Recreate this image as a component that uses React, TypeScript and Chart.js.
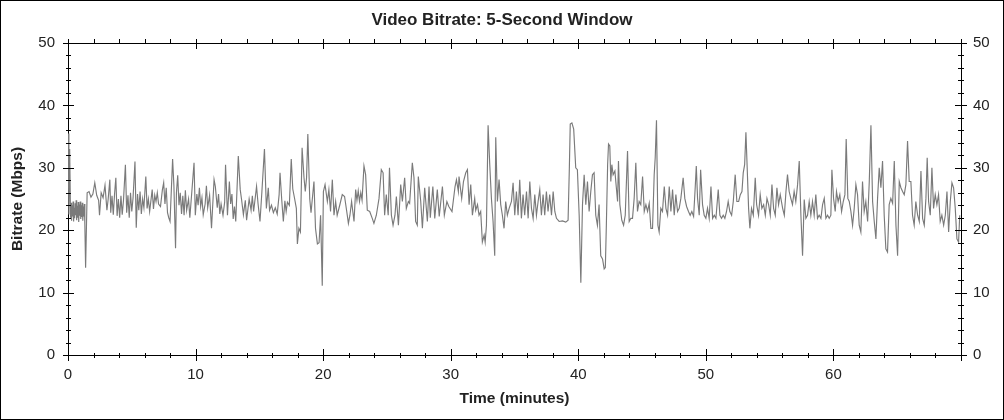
import React, { useEffect, useRef } from 'react';
import { Chart, registerables } from 'chart.js';

Chart.register(...registerables);

const chartTitle = 'Video Bitrate: 5-Second Window';
const xAxisTitle = 'Time (minutes)';
const yAxisTitle = 'Bitrate (Mbps)';

const xMin = 0;
const xMax = 70;
const yMin = 0;
const yMax = 50;
const xTickValues = [0, 10, 20, 30, 40, 50, 60];
const yTickValues = [0, 10, 20, 30, 40, 50];
const xMinorStep = 2;
const yMinorStep = 2;

// [minute, Mbps] samples
const samples0to14 = [
  [0.0, 35.5], [0.07, 22.5], [0.13, 33], [0.2, 22], [0.24, 24.4], [0.28, 21.5], [0.32, 24.0], [0.36, 22.2],
  [0.4, 24.6], [0.44, 21.4], [0.48, 23.6], [0.52, 21.9], [0.56, 24.3], [0.6, 22.4], [0.64, 24.8], [0.68, 21.6],
  [0.72, 23.9], [0.76, 22.0], [0.8, 24.5], [0.84, 21.3], [0.88, 24.1], [0.92, 22.3], [0.96, 24.6], [1.0, 21.8],
  [1.04, 24.0], [1.08, 22.1], [1.12, 24.4], [1.16, 21.5], [1.2, 23.8], [1.24, 22.2], [1.28, 24.2], [1.32, 21.0],
  [1.38, 14.0], [1.5, 26.0], [1.65, 26.2], [1.8, 25.3], [1.95, 25.8], [2.1, 27.6],
  [2.25, 25.6], [2.4, 24.8], [2.47, 22.4], [2.6, 26.0], [2.75, 25.2], [2.9, 27.2], [3.05, 23.2], [3.15, 25.0],
  [3.28, 28.1], [3.35, 22.8], [3.45, 25.5], [3.55, 22.5], [3.65, 25.8], [3.75, 28.4], [3.85, 22.3], [3.95, 25.0],
  [4.05, 22.0], [4.15, 25.5], [4.25, 22.5], [4.35, 24.8], [4.5, 30.5], [4.6, 22.8], [4.7, 25.6], [4.8, 22.0],
  [4.9, 26.0], [5.0, 23.0], [5.1, 25.2], [5.25, 31.0], [5.35, 20.4], [5.45, 25.8], [5.55, 23.2], [5.65, 26.2],
  [5.75, 22.6], [5.85, 25.0], [5.95, 23.6], [6.1, 28.6], [6.2, 23.5], [6.3, 25.0], [6.4, 23.0], [6.6, 26.5],
  [6.7, 23.4], [6.8, 25.6], [6.9, 24.6], [7.0, 26.0], [7.1, 24.2], [7.25, 23.8], [7.4, 26.5], [7.5, 27.6],
  [7.6, 24.2], [7.7, 26.8], [7.8, 22.8], [7.9, 22.0], [8.0, 21.4], [8.2, 31.4], [8.3, 27.2], [8.43, 17.1],
  [8.5, 26.0], [8.6, 28.8], [8.7, 24.0], [8.8, 26.0], [8.9, 22.6], [9.0, 25.5], [9.1, 22.4], [9.2, 26.4],
  [9.3, 23.2], [9.45, 25.0], [9.55, 22.0], [9.7, 26.0], [9.88, 30.8], [9.98, 22.4], [10.1, 25.8], [10.2, 24.0],
  [10.3, 26.8], [10.4, 23.8], [10.5, 25.2], [10.6, 22.5], [10.75, 24.2], [10.85, 27.1], [10.95, 23.6], [11.1, 25.6],
  [11.25, 20.3], [11.45, 28.1], [11.55, 27.0], [11.7, 23.6], [11.8, 25.8], [11.9, 22.6], [12.0, 24.2], [12.15, 22.4],
  [12.28, 24.5], [12.35, 30.5], [12.5, 22.4], [12.65, 27.8], [12.75, 24.2], [12.85, 25.8], [12.95, 21.8], [13.05, 23.8],
  [13.15, 21.4], [13.35, 31.9], [13.5, 26.5], [13.6, 25.0], [13.75, 22.5], [13.9, 24.8], [14.0, 21.6],
];

const samples14to28 = [
  [14.2, 25.0], [14.35, 23.2], [14.45, 25.5], [14.55, 23.0], [14.7, 25.6], [14.78, 27.0], [14.9, 24.2], [15.05, 21.4],
  [15.2, 26.2], [15.4, 33.0], [15.55, 23.5], [15.7, 26.8], [15.8, 23.2], [15.95, 24.0], [16.1, 22.8], [16.25, 23.6],
  [16.4, 22.6], [16.55, 25.7], [16.62, 29.2], [16.75, 25.0], [16.88, 21.4], [17.0, 24.7], [17.1, 23.0], [17.2, 24.5],
  [17.35, 24.0], [17.5, 31.4], [17.62, 26.6], [17.75, 25.2], [17.9, 23.5], [17.98, 17.8], [18.1, 20.3], [18.22, 19.7],
  [18.35, 33.2], [18.5, 28.4], [18.6, 26.2], [18.7, 28.4], [18.8, 35.4], [18.95, 25.0], [19.05, 22.8], [19.28, 27.8],
  [19.4, 20.3], [19.55, 17.8], [19.68, 18.0], [19.8, 22.4], [19.93, 11.1], [20.02, 26.2], [20.15, 27.3], [20.33, 24.6],
  [20.45, 26.5], [20.58, 23.0], [20.72, 28.1], [20.85, 22.4], [20.98, 24.6], [21.1, 22.4], [21.3, 24.0], [21.5, 25.7],
  [21.68, 25.4], [21.85, 23.0], [21.98, 21.1], [22.1, 22.4], [22.23, 24.6], [22.42, 21.4], [22.55, 26.5], [22.65, 24.8],
  [22.75, 26.3], [22.85, 24.6], [22.95, 26.0], [23.05, 24.8], [23.2, 30.3], [23.33, 28.9], [23.46, 23.2], [23.65, 23.0],
  [23.85, 21.9], [23.98, 21.1], [24.17, 22.4], [24.38, 25.1], [24.56, 29.7], [24.7, 29.2], [24.82, 22.4], [24.95, 25.7],
  [25.1, 22.4], [25.2, 30.0], [25.35, 22.4], [25.48, 20.8], [25.63, 22.4], [25.74, 25.4], [25.9, 20.8], [26.08, 27.3],
  [26.21, 24.6], [26.39, 28.4], [26.52, 23.5], [26.68, 24.6], [26.78, 24.3], [26.99, 30.8], [27.12, 28.4], [27.25, 21.4],
  [27.38, 20.8], [27.46, 28.6], [27.65, 24.6], [27.78, 20.3], [27.96, 26.8], [28.17, 21.4],
];

const samples28to42 = [
  [28.3, 27.0], [28.4, 22.0], [28.6, 27.0], [28.75, 21.9], [28.95, 26.5], [29.1, 22.2], [29.35, 27.0], [29.5, 22.4],
  [29.7, 24.6], [29.85, 23.8], [30.1, 23.0], [30.34, 27.0], [30.45, 28.1], [30.6, 26.2], [30.65, 28.6], [30.86, 25.1],
  [31.0, 27.8], [31.18, 29.2], [31.31, 29.7], [31.44, 24.1], [31.57, 27.3], [31.7, 22.4], [31.88, 25.1], [31.96, 23.2],
  [32.1, 24.1], [32.22, 22.4], [32.35, 23.0], [32.48, 18.1], [32.62, 19.2], [32.7, 18.1], [32.8, 20.8], [32.93, 36.8],
  [33.06, 30.5], [33.19, 25.1], [33.32, 21.4], [33.45, 15.9], [33.53, 34.9], [33.66, 24.6], [33.79, 28.1], [33.92, 24.1],
  [34.05, 22.4], [34.18, 20.3], [34.31, 24.6], [34.44, 22.4], [34.58, 23.5], [34.76, 24.6], [34.89, 27.6], [35.02, 22.4],
  [35.15, 26.2], [35.28, 22.4], [35.41, 28.1], [35.54, 21.9], [35.67, 25.7], [35.8, 22.4], [35.94, 26.2], [36.07, 21.9],
  [36.2, 27.8], [36.33, 23.5], [36.46, 21.9], [36.59, 25.7], [36.72, 22.4], [36.85, 24.6], [36.98, 26.5], [37.11, 22.4],
  [37.24, 25.7], [37.37, 22.4], [37.5, 26.2], [37.63, 23.0], [37.76, 25.7], [37.9, 22.4], [38.03, 26.2], [38.16, 23.0],
  [38.29, 21.9], [38.5, 21.4], [38.76, 21.5], [39.02, 21.3], [39.2, 21.6], [39.3, 30.0], [39.37, 37.0], [39.5, 37.2],
  [39.64, 36.2], [39.8, 30.0], [39.93, 29.7], [40.07, 22.4], [40.2, 11.6], [40.33, 24.1], [40.46, 28.9], [40.59, 24.1],
  [40.72, 27.8], [40.85, 23.0], [40.98, 26.2], [41.11, 28.9], [41.24, 29.2], [41.37, 22.4], [41.5, 20.8], [41.63, 24.1],
  [41.76, 15.9], [41.9, 15.4], [42.03, 13.8], [42.12, 14.0],
];

const samples42to56 = [
  [42.2, 20.8], [42.3, 30.5], [42.37, 33.8], [42.47, 33.5], [42.55, 27.8], [42.63, 30.5], [42.73, 28.9], [42.87, 29.5],
  [42.94, 27.8], [43.08, 24.6], [43.15, 31.1], [43.26, 24.1], [43.41, 21.6], [43.55, 20.8], [43.68, 22.4], [43.86, 32.7],
  [43.99, 21.4], [44.12, 21.9], [44.25, 21.9], [44.38, 25.1], [44.51, 30.8], [44.64, 23.0], [44.77, 24.6], [44.9, 24.1],
  [45.04, 28.6], [45.17, 23.0], [45.3, 24.1], [45.43, 23.0], [45.56, 24.3], [45.69, 20.3], [45.82, 20.3], [45.95, 28.9],
  [46.03, 31.6], [46.13, 37.6], [46.24, 20.8], [46.34, 19.7], [46.47, 23.5], [46.6, 23.0], [46.74, 27.0], [46.87, 23.5],
  [47.0, 22.4], [47.13, 27.0], [47.26, 23.0], [47.39, 26.5], [47.52, 22.4], [47.65, 25.7], [47.78, 23.0], [47.91, 23.5],
  [48.04, 25.1], [48.22, 28.4], [48.35, 25.1], [48.49, 23.8], [48.64, 23.0], [48.77, 22.4], [48.9, 23.0], [49.04, 22.2],
  [49.17, 27.0], [49.25, 30.3], [49.35, 25.1], [49.48, 22.4], [49.59, 29.7], [49.74, 24.1], [49.87, 22.4], [50.0, 21.9],
  [50.13, 23.5], [50.26, 21.9], [50.4, 27.0], [50.53, 21.9], [50.66, 22.4], [50.79, 21.9], [50.97, 26.5], [51.1, 22.4],
  [51.23, 21.9], [51.36, 22.4], [51.49, 21.9], [51.62, 23.0], [51.75, 24.6], [51.88, 23.0], [52.02, 22.4], [52.15, 24.6],
  [52.3, 28.9], [52.43, 24.6], [52.57, 24.6], [52.7, 25.7], [52.83, 26.2], [52.93, 29.2], [53.04, 30.5], [53.14, 35.7],
  [53.24, 30.0], [53.35, 23.5], [53.45, 20.3], [53.58, 23.5], [53.72, 22.4], [53.87, 28.4], [53.98, 24.1], [54.13, 22.4],
  [54.26, 25.7], [54.39, 23.5], [54.53, 24.1], [54.66, 22.4], [54.79, 25.1], [54.92, 24.1], [55.05, 22.4], [55.18, 27.3],
  [55.31, 23.5], [55.44, 22.4], [55.57, 26.8], [55.7, 24.1], [55.83, 25.7], [56.02, 23.5], [56.15, 22.4], [56.28, 26.2],
];

const samples56to70 = [
  [56.4, 28.9], [56.53, 26.2], [56.66, 25.1], [56.79, 24.1], [56.92, 26.2], [57.05, 24.6], [57.19, 27.3], [57.32, 31.1],
  [57.45, 22.4], [57.58, 15.9], [57.71, 24.9], [57.84, 21.9], [57.97, 22.4], [58.1, 24.6], [58.23, 22.4], [58.36, 24.6],
  [58.49, 22.4], [58.62, 25.7], [58.75, 21.9], [58.88, 22.4], [59.02, 21.9], [59.15, 24.1], [59.28, 25.1], [59.41, 21.9],
  [59.54, 22.4], [59.67, 21.9], [59.8, 22.4], [59.88, 29.7], [60.01, 25.1], [60.14, 23.0], [60.24, 26.2], [60.37, 24.6],
  [60.5, 25.7], [60.64, 23.0], [60.77, 24.6], [60.9, 25.7], [61.0, 34.6], [61.13, 25.1], [61.24, 24.6], [61.37, 23.0],
  [61.5, 20.8], [61.63, 23.5], [61.76, 27.3], [61.89, 25.7], [62.02, 20.8], [62.15, 19.7], [62.28, 27.8], [62.41, 23.0],
  [62.54, 24.6], [62.68, 21.4], [62.81, 27.8], [62.94, 36.8], [63.07, 24.6], [63.2, 21.4], [63.33, 18.6], [63.46, 25.1],
  [63.59, 30.0], [63.72, 26.8], [63.85, 31.1], [63.98, 22.4], [64.11, 17.0], [64.24, 16.5], [64.37, 24.1], [64.5, 25.1],
  [64.64, 24.3], [64.77, 31.1], [64.9, 20.8], [65.03, 15.9], [65.16, 27.8], [65.29, 26.8], [65.42, 26.2], [65.55, 25.7],
  [65.68, 27.3], [65.81, 34.3], [65.94, 27.8], [66.07, 27.8], [66.2, 22.4], [66.33, 20.8], [66.46, 24.6], [66.6, 22.4],
  [66.73, 21.4], [66.86, 29.5], [66.99, 21.9], [67.12, 20.8], [67.25, 25.1], [67.35, 31.6], [67.46, 24.6], [67.59, 22.4],
  [67.72, 30.0], [67.85, 23.5], [67.98, 25.7], [68.11, 24.1], [68.24, 25.7], [68.37, 21.4], [68.5, 22.4], [68.64, 20.8],
  [68.77, 22.4], [68.9, 26.2], [69.03, 19.7], [69.16, 24.6], [69.29, 27.6], [69.42, 26.8], [69.55, 23.5], [69.68, 18.6],
  [69.81, 18.1], [69.9, 22.4],
];

const allSamples = [...samples0to14, ...samples14to28, ...samples28to42, ...samples42to56, ...samples56to70];

const tickMarksPlugin = {
  id: 'tickMarks',
  afterDraw(chart: any) {
    const { ctx, chartArea: a, scales } = chart;
    const xs = scales.x;
    const ys = scales.y;
    ctx.save();
    ctx.strokeStyle = '#000';
    ctx.lineWidth = 1;
    ctx.beginPath();
    for (let v = xMin; v <= xMax + 1e-9; v += xMinorStep) {
      const px = Math.round(xs.getPixelForValue(v)) + 0.5;
      const major = v % 10 === 0;
      ctx.moveTo(px, Math.round(a.bottom) - (major ? 6 : 2));
      ctx.lineTo(px, Math.round(a.bottom) + (major ? 6 : 3));
      ctx.moveTo(px, Math.round(a.top) - 4);
      ctx.lineTo(px, Math.round(a.top) + (major ? 6 : 0));
    }
    for (let v = yMin; v <= yMax + 1e-9; v += yMinorStep) {
      const py = Math.round(ys.getPixelForValue(v)) + 0.5;
      const major = v % 10 === 0;
      ctx.moveTo(Math.round(a.left) - (major ? 5 : 2), py);
      ctx.lineTo(Math.round(a.left) + (major ? 6 : 3), py);
      ctx.moveTo(Math.round(a.right) - (major ? 6 : 3), py);
      ctx.lineTo(Math.round(a.right) + (major ? 6 : 3), py);
    }
    ctx.stroke();
    ctx.restore();
  },
};

const FONT = "'Liberation Sans', Arial, Helvetica, sans-serif";
const TEXT = '#222';

export default function App() {
  const ref = useRef<HTMLCanvasElement | null>(null);

  useEffect(() => {
    if (!ref.current) return;
    const axisBase = {
      type: 'linear' as const,
      grid: { display: true, drawOnChartArea: false, drawTicks: false },
      border: { display: true, color: '#000', width: 1 },
    };
    const chart = new Chart(ref.current, {
      type: 'line',
      data: {
        datasets: [
          {
            data: allSamples.map(([t, v]) => ({ x: t, y: v })),
            borderColor: '#7a7a7a',
            borderWidth: 1.15,
            pointRadius: 0,
            tension: 0,
            fill: false,
          },
        ],
      },
      options: {
        animation: false,
        responsive: false,
        events: [],
        layout: { padding: 0 },
        plugins: {
          legend: { display: false },
          tooltip: { enabled: false },
          title: {
            display: true,
            text: chartTitle,
            color: TEXT,
            font: { family: FONT, size: 17, weight: 'bold' },
            padding: { top: 9.3, bottom: 12.3 },
          },
        },
        scales: {
          x: {
            ...axisBase,
            position: 'bottom',
            min: xMin,
            max: xMax,
            afterBuildTicks: (s: any) => {
              s.ticks = xTickValues.map((v) => ({ value: v }));
            },
            afterFit: (s: any) => {
              s.height = 64;
            },
            ticks: { color: TEXT, font: { family: FONT, size: 15 }, padding: 11, maxRotation: 0, autoSkip: false },
            title: {
              display: true,
              text: xAxisTitle,
              color: TEXT,
              font: { family: FONT, size: 15.5, weight: 'bold' },
              padding: { top: 0, bottom: 10.7 },
            },
          },
          x2: {
            ...axisBase,
            position: 'top',
            min: xMin,
            max: xMax,
            ticks: { display: false },
            afterFit: (s: any) => {
              s.height = 0;
            },
          },
          y: {
            ...axisBase,
            position: 'left',
            min: yMin,
            max: yMax,
            afterBuildTicks: (s: any) => {
              s.ticks = yTickValues.map((v) => ({ value: v }));
            },
            afterFit: (s: any) => {
              s.width = 67;
            },
            ticks: { color: TEXT, font: { family: FONT, size: 15 }, padding: 13 },
            title: {
              display: true,
              text: yAxisTitle,
              color: TEXT,
              font: { family: FONT, size: 15.5, weight: 'bold' },
              padding: { top: 7.7, bottom: 0 },
            },
          },
          y2: {
            ...axisBase,
            position: 'right',
            display: true,
            min: yMin,
            max: yMax,
            afterBuildTicks: (s: any) => {
              s.ticks = yTickValues.map((v) => ({ value: v }));
            },
            afterFit: (s: any) => {
              s.width = 42;
            },
            ticks: { color: TEXT, font: { family: FONT, size: 15 }, padding: 12 },
          },
        },
      },
      plugins: [tickMarksPlugin],
    } as any);
    return () => chart.destroy();
  }, []);

  return (
    <div
      style={{
        position: 'absolute',
        left: 0,
        top: 0,
        width: 1004,
        height: 420,
        border: '1px solid #000',
        boxSizing: 'border-box',
        background: '#fff',
      }}
    >
      <canvas ref={ref} width={1002} height={418} style={{ display: 'block', width: 1002, height: 418 }} />
    </div>
  );
}
